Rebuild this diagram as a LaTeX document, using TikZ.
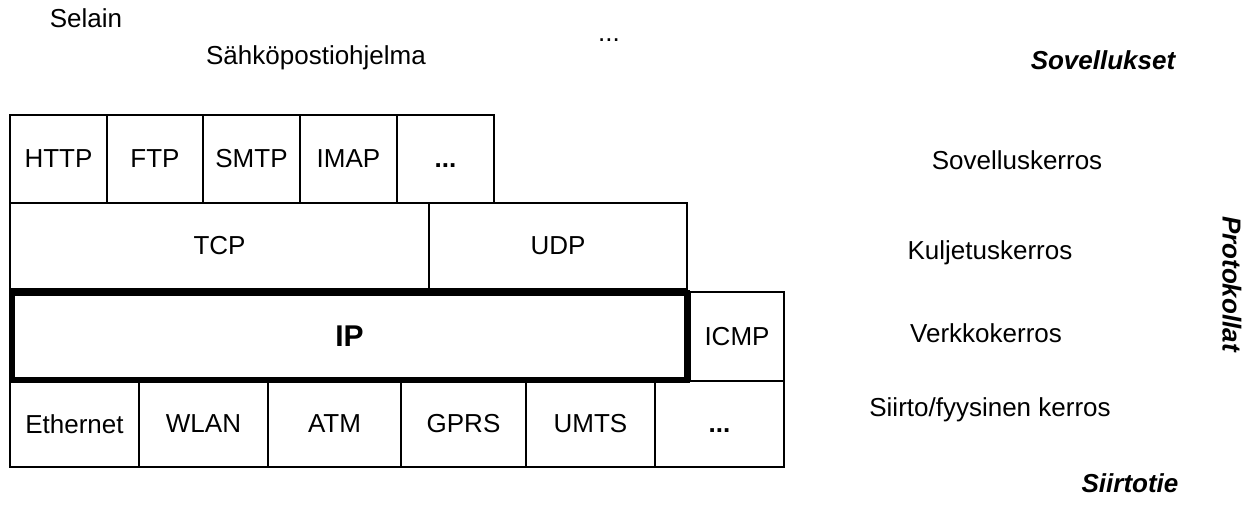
\documentclass[tikz,border=0pt]{standalone}
\usepackage{fontspec}
\setmainfont{Liberation Sans}
\begin{document}
\begin{tikzpicture}[x=0.5pt,y=-0.5pt,
		cell/.style={draw,line width=0.6pt,inner sep=0pt,outer sep=0pt,font=\fontsize{13}{15}\selectfont},
		iplayer/.style={draw,line width=3pt,inner sep=0pt,outer sep=0pt,font=\fontsize{15}{17}\selectfont\bfseries},
		label/.style={font=\fontsize{13}{15}\selectfont},
		group/.style={font=\fontsize{13}{15}\selectfont\bfseries\itshape}]
		\useasboundingbox (0,0) rectangle (1251,517);
		
		% sovellukset
		\node[label] (selain) at (86,18) {Selain};
		\node[label] (sposti) at (316,58) {Sähköpostiohjelma};
		\node[label] (muut) at (609,40) {...};
		\node[group] (sovellukset) at (1103,60) {Sovellukset};
		
		% sovelluskerros
		\node[cell,minimum width=48.5pt,minimum height=44pt] (http) at (58.5,159) {HTTP};
		\node[cell,minimum width=48pt,minimum height=44pt] (ftp) at (155,159) {FTP};
		\node[cell,minimum width=48.5pt,minimum height=44pt] (smtp) at (251.5,159) {SMTP};
		\node[cell,minimum width=48.5pt,minimum height=44pt] (imap) at (348.5,159) {IMAP};
		\node[cell,minimum width=48.5pt,minimum height=44pt] (appmuut) at (445.5,159) {\vphantom{X}\textbf{...}};
		
		% kuljetuskerros
		\node[cell,minimum width=209.5pt,minimum height=43pt] (tcp) at (219.5,246) {TCP};
		\node[cell,minimum width=129pt,minimum height=43pt] (udp) at (558,246) {UDP};
		
		% verkkokerros
		\node[cell,minimum width=47pt,minimum height=44.5pt] (icmp) at (737,336.5) {ICMP};
		\node[iplayer,minimum width=337.5pt,minimum height=43.5pt] (ip) at (349.5,336.5) {IP};
		
		% siirtokerros
		\node[cell,minimum width=64.5pt,minimum height=43pt] (eth) at (74.5,424) {Ethernet};
		\node[cell,minimum width=64.5pt,minimum height=43pt] (wlan) at (203.5,424) {WLAN};
		\node[cell,minimum width=66.5pt,minimum height=43pt] (atm) at (334.5,424) {ATM};
		\node[cell,minimum width=62.5pt,minimum height=43pt] (gprs) at (463.5,424) {GPRS};
		\node[cell,minimum width=64.5pt,minimum height=43pt] (umts) at (590.5,424) {UMTS};
		\node[cell,minimum width=64.5pt,minimum height=43pt] (linkmuut) at (719.5,424) {\vphantom{X}\textbf{...}};
		
		% kerrosten nimet
		\node[label] (sovk) at (1017,160) {Sovelluskerros};
		\node[label] (kulk) at (990,253) {Kuljetuskerros};
		\node[label] (verk) at (986,333) {Verkkokerros};
		\node[label] (siik) at (990,410) {Siirto/fyysinen kerros};
		\node[group,rotate=-90] (protokollat) at (1232,284) {Protokollat};
		\node[group] (siirtotie) at (1130,483) {Siirtotie};
		
	\end{tikzpicture}
\end{document}
